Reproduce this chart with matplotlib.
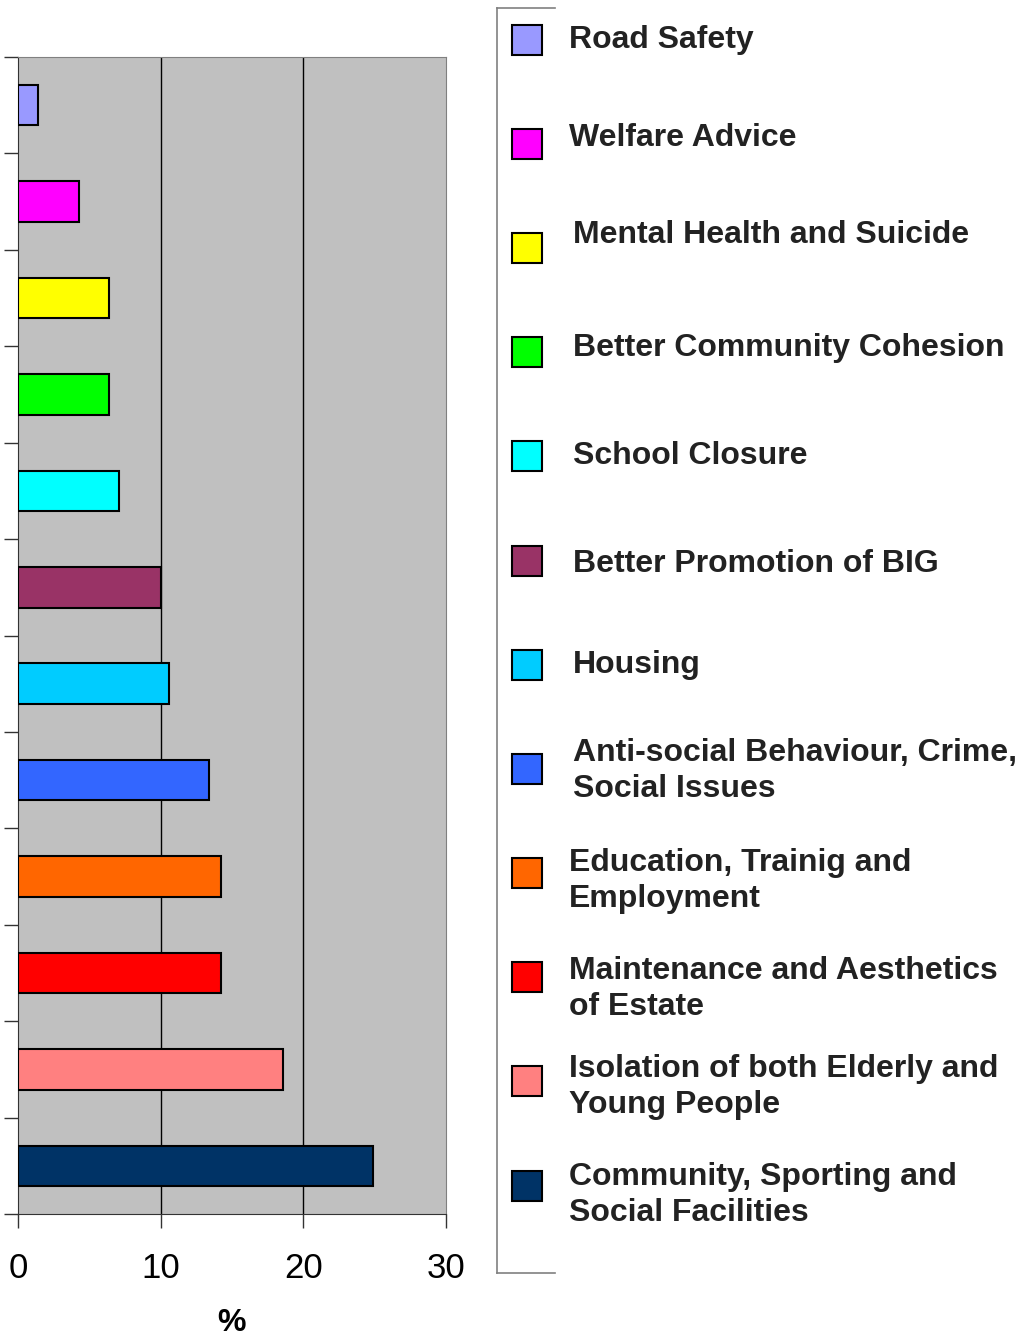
import matplotlib
matplotlib.use('Agg')
import matplotlib.pyplot as plt
from matplotlib.patches import Rectangle
from matplotlib.lines import Line2D

plt.rcParams['font.family'] = ['Liberation Sans', 'DejaVu Sans']

categories = ['Road Safety', 'Welfare Advice', 'Mental Health and Suicide',
              'Better Community Cohesion', 'School Closure', 'Better Promotion of BIG',
              'Housing', 'Anti-social Behaviour, Crime,\nSocial Issues',
              'Education, Trainig and\nEmployment', 'Maintenance and Aesthetics\nof Estate',
              'Isolation of both Elderly and\nYoung People', 'Community, Sporting and\nSocial Facilities']
values = [1.4, 4.3, 6.4, 6.4, 7.1, 10.0, 10.6, 13.4, 14.2, 14.2, 18.6, 24.9]
colors = ['#9999FF', '#FF00FF', '#FFFF00', '#00FF00', '#00FFFF', '#993366',
          '#00CCFF', '#3366FF', '#FF6600', '#FF0000', '#FF8080', '#003366']
xticks = [0, 10, 20, 30]

W, H = 1020, 1340
fig = plt.figure(figsize=(W / 100, H / 100), dpi=100)
ax = fig.add_axes([18 / W, 1 - 1214 / H, 428 / W, 1157 / H])
ax.set_facecolor('#C0C0C0')

ypos = list(range(len(categories)))
ax.barh(ypos, values, height=0.42, color=colors, edgecolor='black', linewidth=1.5, zorder=3)
ax.set_ylim(len(categories) - 0.5, -0.5)
ax.set_xlim(0, 30)
ax.set_xticks(xticks)
ax.set_xticklabels([str(t) for t in xticks], fontsize=25)
ax.set_yticks([i - 0.5 for i in range(len(categories) + 1)])
ax.set_yticklabels([])
ax.tick_params(axis='both', length=10, width=1, color='#333333', pad=17)
for x in xticks[1:-1]:
    ax.axvline(x, color='black', linewidth=1, zorder=1)
for s in ['top', 'right']:
    ax.spines[s].set_color('#808080')
ax.spines['left'].set_color('#333333')
ax.spines['bottom'].set_color('#333333')
ax.set_xlabel('%', fontsize=23, fontweight='bold', labelpad=17)

# legend box (partial frame)
for xs, ys in [([497, 497], [8, 1273]), ([497, 555], [8, 8]), ([497, 555], [1273, 1273])]:
    fig.add_artist(Line2D([x / W for x in xs], [1 - y / H for y in ys], color='#808080', lw=1.2))

sq_y = [40, 144, 248, 352, 456, 561, 665, 769, 873, 977, 1081, 1186]
txt_x = [569, 569, 573, 573, 573, 573, 573, 573, 569, 569, 569, 569]
txt_y = [40, 138, 235, 348, 456, 564, 665, 771, 881, 989, 1087, 1195]
for i, lab in enumerate(categories):
    fig.add_artist(Rectangle((512 / W, 1 - (sq_y[i] + 15) / H), 30 / W, 30 / H,
                             facecolor=colors[i], edgecolor='black', lw=1.5,
                             transform=fig.transFigure))
    fig.text(txt_x[i] / W, 1 - txt_y[i] / H, lab, fontsize=23, fontweight='bold',
             color='#222222', va='center', ha='left', linespacing=1.22)

fig.savefig('out.png', dpi=100)
